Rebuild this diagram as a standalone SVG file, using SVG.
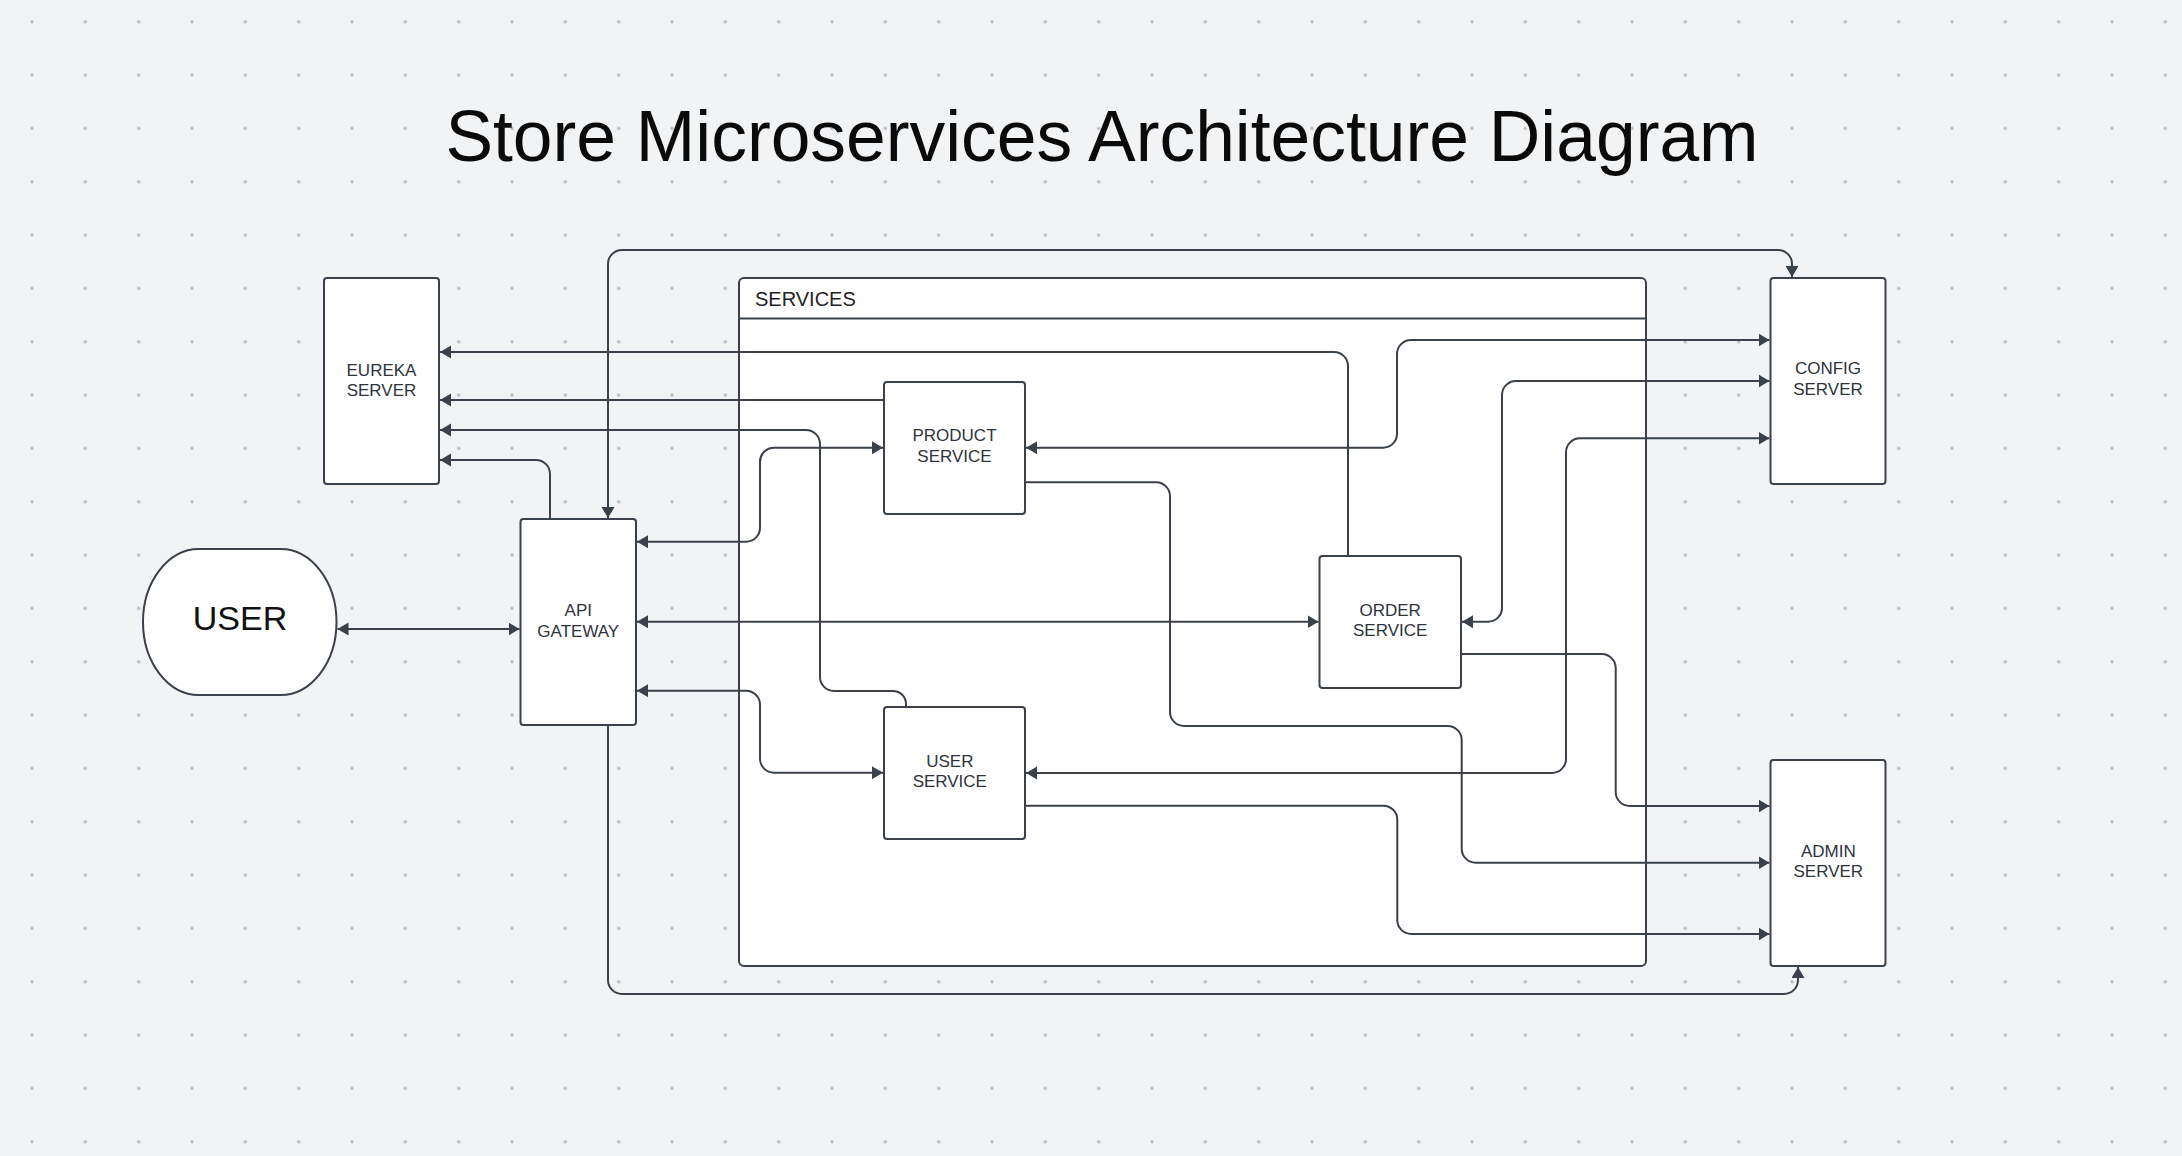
<svg xmlns="http://www.w3.org/2000/svg" width="2182" height="1156" viewBox="0 0 2182 1156">
<style>
.n{fill:#fff;stroke:#3a414a;stroke-width:2}
.t{font-family:"Liberation Sans",Arial,sans-serif;font-size:17px;fill:#2e333b;text-anchor:middle}
.c{fill:none;stroke:#3a414a;stroke-width:2}
.a{marker-end:url(#ah)}
.b{marker-start:url(#ah);marker-end:url(#ah)}
</style>
<defs>
<pattern id="dots" patternUnits="userSpaceOnUse" x="5.333" y="-4.867" width="53.333" height="53.333">
<circle cx="26.667" cy="26.667" r="1.7" fill="#b6b9be"/>
</pattern>
<marker id="ah" markerUnits="userSpaceOnUse" markerWidth="12" markerHeight="14" refX="11" refY="6.5" orient="auto-start-reverse">
<path d="M0,0 L11,6.5 L0,13 z" fill="#3a414a"/>
</marker>
</defs>
<rect width="2182" height="1156" fill="#f2f3f5"/>
<rect width="2182" height="1156" fill="url(#dots)"/>
<text x="1102" y="161" font-family="'Liberation Sans',Arial,sans-serif" font-size="71.4" fill="#0a0a0a" text-anchor="middle">Store Microservices Architecture Diagram</text>

<g id="services">
<rect class="n" x="739" y="278" width="907" height="688" rx="5"/>
<line x1="739" y1="318.5" x2="1646" y2="318.5" stroke="#3a414a" stroke-width="2"/>
<text x="755" y="305.5" font-family="'Liberation Sans',Arial,sans-serif" font-size="20" fill="#1f2328">SERVICES</text>
</g>

<g id="connectors">
<path class="c b" d="M337.5 629 H519.5"/>
<path class="c b" d="M608 518 V264 A14 14 0 0 1 622 250 H1778 A14 14 0 0 1 1792 264 V277"/>
<path class="c a" d="M608 725 V980 A14 14 0 0 0 622 994 H1784 A14 14 0 0 0 1798 980 V967"/>
<path class="c a" d="M550 519 V474 A14 14 0 0 0 536 460 H440"/>
<path class="c a" d="M1348 556 V366 A14 14 0 0 0 1334 352 H440"/>
<path class="c a" d="M884 400 H440"/>
<path class="c a" d="M906 707 V704 A13 13 0 0 0 893 691 H834 A14 14 0 0 1 820 677 V444 A14 14 0 0 0 806 430 H440"/>
<path class="c b" d="M637 541.7 H746 A14 14 0 0 0 760 527.7 V461.7 A14 14 0 0 1 774 447.7 H883"/>
<path class="c b" d="M637 621.7 H1318.5"/>
<path class="c b" d="M637 690.7 H746 A14 14 0 0 1 760 704.7 V758.7 A14 14 0 0 0 774 772.7 H883"/>
<path class="c b" d="M1026 447.7 H1383 A14 14 0 0 0 1397 433.7 V354 A14 14 0 0 1 1411 340 H1769.5"/>
<path class="c b" d="M1462 621.7 H1488 A14 14 0 0 0 1502 607.7 V395 A14 14 0 0 1 1516 381 H1769.5"/>
<path class="c b" d="M1026 773 H1552 A14 14 0 0 0 1566 759 V452.3 A14 14 0 0 1 1580 438.3 H1769.5"/>
<path class="c a" d="M1025 482.3 H1156 A14 14 0 0 1 1170 496.3 V712 A14 14 0 0 0 1184 726 H1447.7 A14 14 0 0 1 1461.7 740 V848.7 A14 14 0 0 0 1475.7 862.7 H1769.5"/>
<path class="c a" d="M1461 654 H1601.7 A14 14 0 0 1 1615.7 668 V792 A14 14 0 0 0 1629.7 806 H1769.5"/>
<path class="c a" d="M1025 805.7 H1383.3 A14 14 0 0 1 1397.3 819.7 V920 A14 14 0 0 0 1411.3 934 H1769.5"/>
</g>

<g id="user">
<rect class="n" x="143" y="549" width="193.5" height="146" rx="56" ry="73"/>
<text x="240" y="629.5" font-family="'Liberation Sans',Arial,sans-serif" font-size="34" fill="#111" text-anchor="middle">USER</text>
</g>
<g id="eureka">
<rect class="n" x="324" y="278" width="115" height="206" rx="3"/>
<text class="t" x="381.5" y="375.5">EUREKA</text>
<text class="t" x="381.5" y="395.5">SERVER</text>
</g>
<g id="api-gateway">
<rect class="n" x="520.5" y="519" width="115.5" height="206" rx="3"/>
<text class="t" x="578.3" y="615.8">API</text>
<text class="t" x="578.3" y="636.8">GATEWAY</text>
</g>
<g id="product-service">
<rect class="n" x="884" y="382" width="141" height="132" rx="3"/>
<text class="t" x="954.5" y="441">PRODUCT</text>
<text class="t" x="954.5" y="461.8">SERVICE</text>
</g>
<g id="order-service">
<rect class="n" x="1319.5" y="556" width="141.5" height="132" rx="3"/>
<text class="t" x="1390.2" y="616.1">ORDER</text>
<text class="t" x="1390.2" y="636.1">SERVICE</text>
</g>
<g id="user-service">
<rect class="n" x="884" y="707" width="141" height="132" rx="3"/>
<text class="t" x="949.8" y="766.8">USER</text>
<text class="t" x="949.8" y="787.4">SERVICE</text>
</g>
<g id="config-server">
<rect class="n" x="1770.5" y="278" width="115" height="206" rx="3"/>
<text class="t" x="1828" y="374.4">CONFIG</text>
<text class="t" x="1828" y="395.1">SERVER</text>
</g>
<g id="admin-server">
<rect class="n" x="1770.5" y="760" width="115" height="206" rx="3"/>
<text class="t" x="1828.3" y="856.8">ADMIN</text>
<text class="t" x="1828.3" y="877.1">SERVER</text>
</g>
</svg>
